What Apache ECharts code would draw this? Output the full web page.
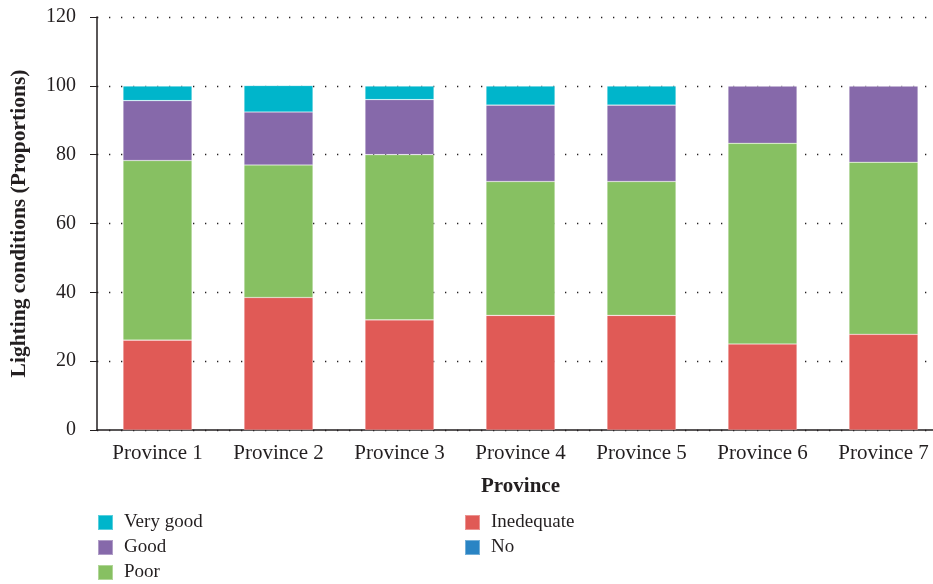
<!DOCTYPE html>
<html>
<head>
<meta charset="utf-8">
<script src="https://cdn.jsdelivr.net/npm/echarts@6/dist/echarts.min.js"></script>
<style>
  html, body { margin: 0; padding: 0; background: #fff; }
  #chart { width: 933px; height: 584px; }
</style>
</head>
<body>
<div id="chart"></div>
<script>
// categories and stacked proportions (bottom to top)
const provinces = ['Province 1', 'Province 2', 'Province 3', 'Province 4', 'Province 5', 'Province 6', 'Province 7']
const inedequate = [26.1, 38.5, 32, 33.3, 33.3, 25, 27.8]
const poor = [52.2, 38.5, 48, 38.9, 38.9, 58.3, 50]
const good = [17.4, 15.4, 16, 22.2, 22.2, 16.7, 22.2]
const veryGood = [4.3, 7.7, 4, 5.6, 5.6, 0, 0]
const no = [0, 0, 0, 0, 0, 0, 0]
const yTicks = [0, 20, 40, 60, 80, 100, 120]

const font = 'Liberation Serif'

function barSeries(name, data, color) {
    return {
        name: name,
        type: 'bar',
        stack: 'total',
        barWidth: 69,
        data: data,
        itemStyle: { color: color, borderColor: 'rgba(255,255,255,0.35)', borderWidth: 0.6 }
    }
}

function legendBlock(left, names) {
    return {
        orient: 'vertical', left: left, top: 513, height: 80, padding: 0,
        itemWidth: 15, itemHeight: 15, itemGap: 6,
        icon: 'rect',
        textStyle: { fontFamily: font, fontSize: 19, color: '#231f20', padding: [0, 0, 0, 6] },
        data: names
    }
}

const chart = echarts.init(document.getElementById('chart'))
chart.setOption({
    animation: false,
    textStyle: { fontFamily: font, color: '#231f20' },
    // the last band runs past the right edge in the original
    grid: { left: 97, right: -11, top: 17, bottom: 154, containLabel: false, outerBoundsMode: 'none' },
    legend: [
        legendBlock(97, ['Very good', 'Good', 'Poor']),
        legendBlock(464, ['Inedequate', 'No'])
    ],
    xAxis: {
        type: 'category',
        data: provinces,
        name: 'Province',
        nameLocation: 'middle',
        nameGap: 46,
        nameTextStyle: { fontFamily: font, fontSize: 21, fontWeight: 'bold', color: '#231f20' },
        axisLine: { lineStyle: { color: '#231f20', width: 1.5 } },
        axisTick: { show: false },
        axisLabel: { fontFamily: font, fontSize: 21, color: '#231f20', margin: 13 }
    },
    yAxis: {
        type: 'value',
        min: yTicks[0],
        max: yTicks[yTicks.length - 1],
        interval: 20,
        name: 'Lighting conditions (Proportions)',
        nameLocation: 'middle',
        nameGap: 67,
        nameTextStyle: { fontFamily: font, fontSize: 21.5, fontWeight: 'bold', color: '#231f20' },
        axisLine: { show: true, lineStyle: { color: '#231f20', width: 1.5 } },
        axisTick: { show: true, inside: false, length: 7, lineStyle: { color: '#231f20' } },
        axisLabel: { fontFamily: font, fontSize: 20, color: '#231f20', margin: 21 },
        splitLine: { show: true, lineStyle: { color: '#231f20', width: 1.3, type: [1.3, 10.7] } }
    },
    series: [
        barSeries('Inedequate', inedequate, '#e05a56'),
        barSeries('Poor', poor, '#87c062'),
        barSeries('Good', good, '#8669aa'),
        barSeries('Very good', veryGood, '#00b5cb'),
        barSeries('No', no, '#2a84c4')
    ]
})
</script>
</body>
</html>
